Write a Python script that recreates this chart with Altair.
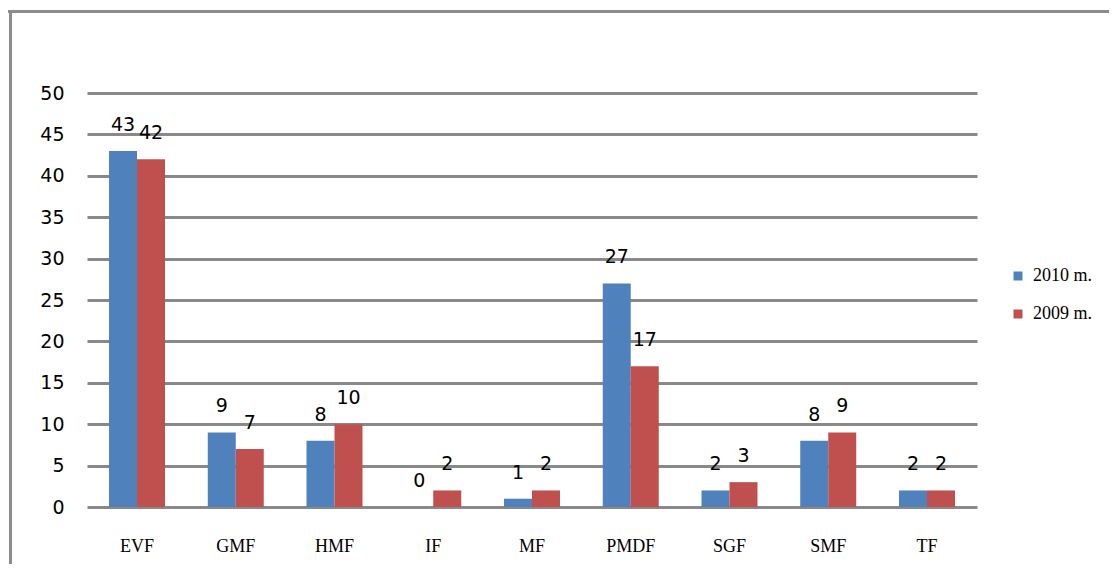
import altair as alt
import pandas as pd

categories = ["EVF", "GMF", "HMF", "IF", "MF", "PMDF", "SGF", "SMF", "TF"]
series = ["2010 m.", "2009 m."]
values_2010 = [43, 9, 8, 0, 1, 27, 2, 8, 2]
values_2009 = [42, 7, 10, 2, 2, 17, 3, 9, 2]
y_ticks = [0, 5, 10, 15, 20, 25, 30, 35, 40, 45, 50]
colors = ["#4F81BD", "#C0504D"]

rows = []
for c, a, b in zip(categories, values_2010, values_2009):
    rows.append({"cat": c, "series": series[0], "value": a})
    rows.append({"cat": c, "series": series[1], "value": b})
df = pd.DataFrame(rows)

x = alt.X("cat:N", sort=categories, title=None,
          scale=alt.Scale(paddingInner=0.433, paddingOuter=0.223),
          axis=alt.Axis(labelAngle=0, labelFont="Liberation Serif", labelFontSize=18,
                        labelColor="#000000", labelPadding=30, domain=False, ticks=False, grid=False))
xo = alt.XOffset("series:N", sort=series, scale=alt.Scale(paddingInner=0, paddingOuter=0))
y = alt.Y("value:Q", title=None,
          scale=alt.Scale(domain=[0, 50], nice=False),
          axis=alt.Axis(values=y_ticks, labelFont="DejaVu Sans", labelFontSize=19,
                        labelColor="#000000", labelPadding=23, domain=False, ticks=False,
                        grid=True, gridColor="#898989", gridWidth=3))

bars = alt.Chart(df).mark_bar().encode(
    x=x, xOffset=xo, y=y,
    color=alt.Color("series:N", sort=series,
                    scale=alt.Scale(domain=series, range=colors),
                    legend=alt.Legend(title=None, orient="none", legendX=922, legendY=174,
                                      symbolType="square", symbolSize=81, symbolStrokeWidth=0,
                                      labelFont="Liberation Serif", labelFontSize=18,
                                      labelColor="#000000", rowPadding=20, labelOffset=6)),
)

labels = alt.Chart(df).mark_text(font="DejaVu Sans", fontSize=19, baseline="bottom",
                                 dy=-16, color="#000000").encode(
    x=x, xOffset=xo, y=y, text="value:Q"
)

border_df = pd.DataFrame({"k": [0]})
border_top = alt.Chart(border_df).mark_rule(color="#8c8c8c", strokeWidth=3).encode(
    x=alt.value(-79), x2=alt.value(2000), y=alt.value(-81.5), y2=alt.value(-81.5)
)
border_left = alt.Chart(border_df).mark_rule(color="#8c8c8c", strokeWidth=3).encode(
    x=alt.value(-76.5), x2=alt.value(-76.5), y=alt.value(-83), y2=alt.value(1000)
)

chart = alt.layer(border_top, border_left, bars, labels).properties(
    width=890, height=414,
    autosize=alt.AutoSizeParams(type="none"),
    padding={"left": 79, "top": 85, "right": 132, "bottom": 57},
    view=alt.ViewBackground(stroke="transparent", strokeWidth=0),
).configure_view(stroke="transparent", strokeWidth=0, strokeOpacity=0).configure_axis(
    domain=False, ticks=False
).configure_axisX(grid=False).configure(background="#ffffff")

chart.save("out.html", embed_options={"renderer": "svg", "actions": False})
